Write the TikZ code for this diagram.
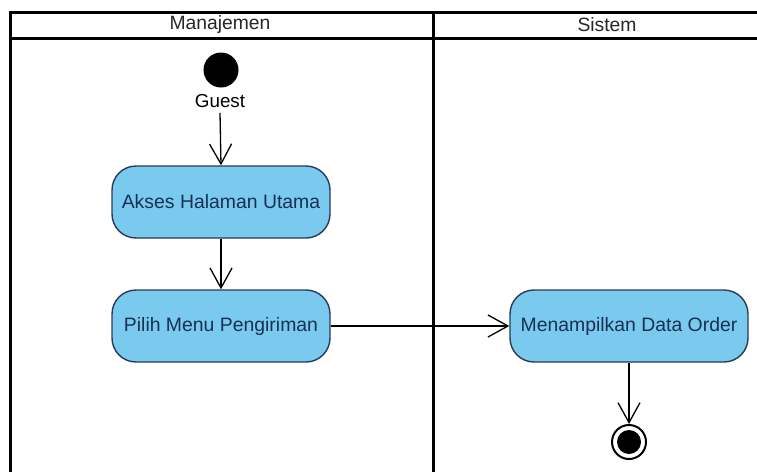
\documentclass[tikz,border=0pt]{standalone}
\usepackage{fontspec}
\setmainfont{Liberation Sans}
\usetikzlibrary{arrows.meta}
\definecolor{actfill}{RGB}{122,202,240}
\definecolor{actline}{RGB}{40,60,84}
\definecolor{acttext}{RGB}{24,48,82}
\tikzset{
  lane/.style={line width=3pt, black},
  lanehead/.style={font=\fontsize{19.3}{21}\selectfont, text=black!85, inner sep=0pt},
  action/.style={draw=actline, fill=actfill, line width=1.4pt, rounded corners=24pt,
    minimum height=72pt, text=acttext, font=\fontsize{19.4}{22}\selectfont, inner sep=0pt},
  flow/.style={line width=1.3pt, black, -{Straight Barb[length=20pt,width=22pt,line width=1.3pt]}},
  startnode/.style={circle, fill=black, minimum size=35pt, inner sep=0pt},
  endring/.style={circle, draw=black, line width=2pt, fill=white, minimum size=34pt, inner sep=0pt},
  enddot/.style={circle, fill=black, minimum size=24pt, inner sep=0pt},
  caption/.style={font=\fontsize{18.8}{21}\selectfont, inner sep=0pt}
}
\begin{document}
\begin{tikzpicture}[x=1pt, y=-1pt]
\useasboundingbox (0,0) rectangle (757,471);
\clip (0,0) rectangle (757,471);
\fill[white] (0,0) rectangle (757,471);

% swimlane frame
\draw[lane] (10,12.5) -- (770,12.5);
\draw[lane] (10,38) -- (770,38);
\draw[lane] (10,11) -- (10,480);
\draw[lane] (433,11) -- (433,480);
\node[lanehead] (h1) at (220,25) {Manajemen};
\node[lanehead] (h2) at (607,25) {Sistem};

% flow nodes
\node[startnode] (start) at (221,70) {};
\node[caption] (guest) at (220,101) {Guest};
\node[action, minimum width=218pt] (a1) at (221,202) {Akses Halaman Utama};
\node[action, minimum width=218pt] (a2) at (221,326) {Pilih Menu Pengiriman};
\node[action, minimum width=238pt] (a3) at (629,326) {Menampilkan Data Order};
\node[endring] (stop) at (629,442) {};
\node[enddot] (stopdot) at (629,442) {};

% connectors
\coordinate (g0) at ([yshift=-5pt]guest.south);
\draw[flow] (g0) -- (a1.north);
\draw[flow] (a1.south) -- (a2.north);
\draw[flow] (a2.east) -- (a3.west);
\draw[flow] (a3.south) -- (stop.north);
\end{tikzpicture}
\end{document}
